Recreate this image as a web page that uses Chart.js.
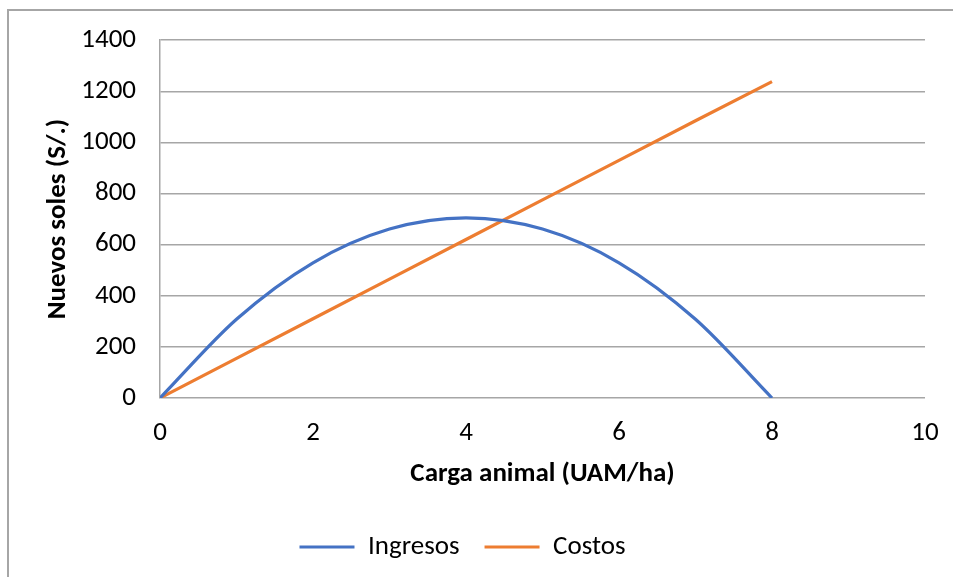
<!DOCTYPE html>
<html>
<head>
<meta charset="utf-8">
<script src="https://cdn.jsdelivr.net/npm/chart.js@4"></script>
<style>
  html, body { margin: 0; padding: 0; background: #fff; overflow: hidden; }
  #marco { position: absolute; left: 7px; top: 9px; width: 1000px; height: 700px;
           border-top: 2px solid #a6a6a6; border-left: 2px solid #a6a6a6; }
  #caja { position: absolute; left: 0; top: 0; width: 953px; height: 577px; }
</style>
</head>
<body>
<div id="marco"></div>
<div id="caja"><canvas id="grafico"></canvas></div>
<script>
// datos
const cargaAnimal = [0, 1, 2, 3, 4, 5, 6, 7, 8];
const ingresos = [0, 308, 529, 661, 705, 661, 529, 308, 0];
const costos = [0, 155, 310, 465, 620, 775, 930, 1085, 1238];
const ticksX = [0, 2, 4, 6, 8, 10];

const fuente = "Carlito, Lato, sans-serif";
const gris = "#a6a6a6";
const tam = 27;

const puntos = (ys) => cargaAnimal.map((x, i) => ({ x: x, y: ys[i] }));

new Chart(document.getElementById("grafico"), {
  type: 'scatter',
  data: {
    datasets: [
      {
        label: "Ingresos",
        data: puntos(ingresos),
        borderColor: "#4472C4",
        backgroundColor: "#4472C4",
        borderWidth: 3.2,
        showLine: true,
        pointRadius: 0,
        cubicInterpolationMode: 'monotone'
      },
      {
        label: "Costos",
        data: puntos(costos),
        borderColor: "#ED7D31",
        backgroundColor: "#ED7D31",
        borderWidth: 3.2,
        showLine: true,
        pointRadius: 0
      }
    ]
  },
  options: {
    responsive: true,
    maintainAspectRatio: false,
    animation: false,
    layout: { padding: { left: 0, right: 28, top: 40, bottom: 6.5 } },
    plugins: {
      legend: {
        position: 'bottom',
        labels: {
          usePointStyle: true,
          pointStyle: 'line',
          pointStyleWidth: 55,
          color: "#000",
          font: { family: fuente, size: tam },
          padding: 25
        }
      },
      tooltip: { enabled: false }
    },
    scales: {
      x: {
        type: 'linear',
        min: 0,
        max: 10,
        afterBuildTicks: (s) => { s.ticks = ticksX.map(v => ({ value: v })); },
        grid: { display: false, drawTicks: false },
        border: { display: false },
        ticks: { color: "#000", font: { family: fuente, size: tam }, padding: 19,
                 callback: (v) => String(v) },
        title: {
          display: true,
          text: "Carga animal (UAM/ha)",
          color: "#000",
          font: { family: fuente, size: tam, weight: 'bold' },
          padding: { top: 0, bottom: 18 }
        },
        afterFit: (s) => { s.height = 110.5; s.paddingRight = 0; s.paddingLeft = 0; }
      },
      y: {
        min: 0,
        max: 1400,
        ticks: { stepSize: 200, color: "#000", font: { family: fuente, size: tam }, padding: 24,
                 callback: (v) => String(v) },
        grid: { color: gris, lineWidth: 1.5, drawTicks: false },
        border: { display: true, color: gris, width: 1.5 },
        title: {
          display: true,
          text: "Nuevos soles (S/.)",
          color: "#000",
          font: { family: fuente, size: tam, weight: 'bold' },
          padding: { top: 42, bottom: 0 }
        },
        afterFit: (s) => { s.width = 160; }
      }
    }
  }
});
</script>
</body>
</html>
